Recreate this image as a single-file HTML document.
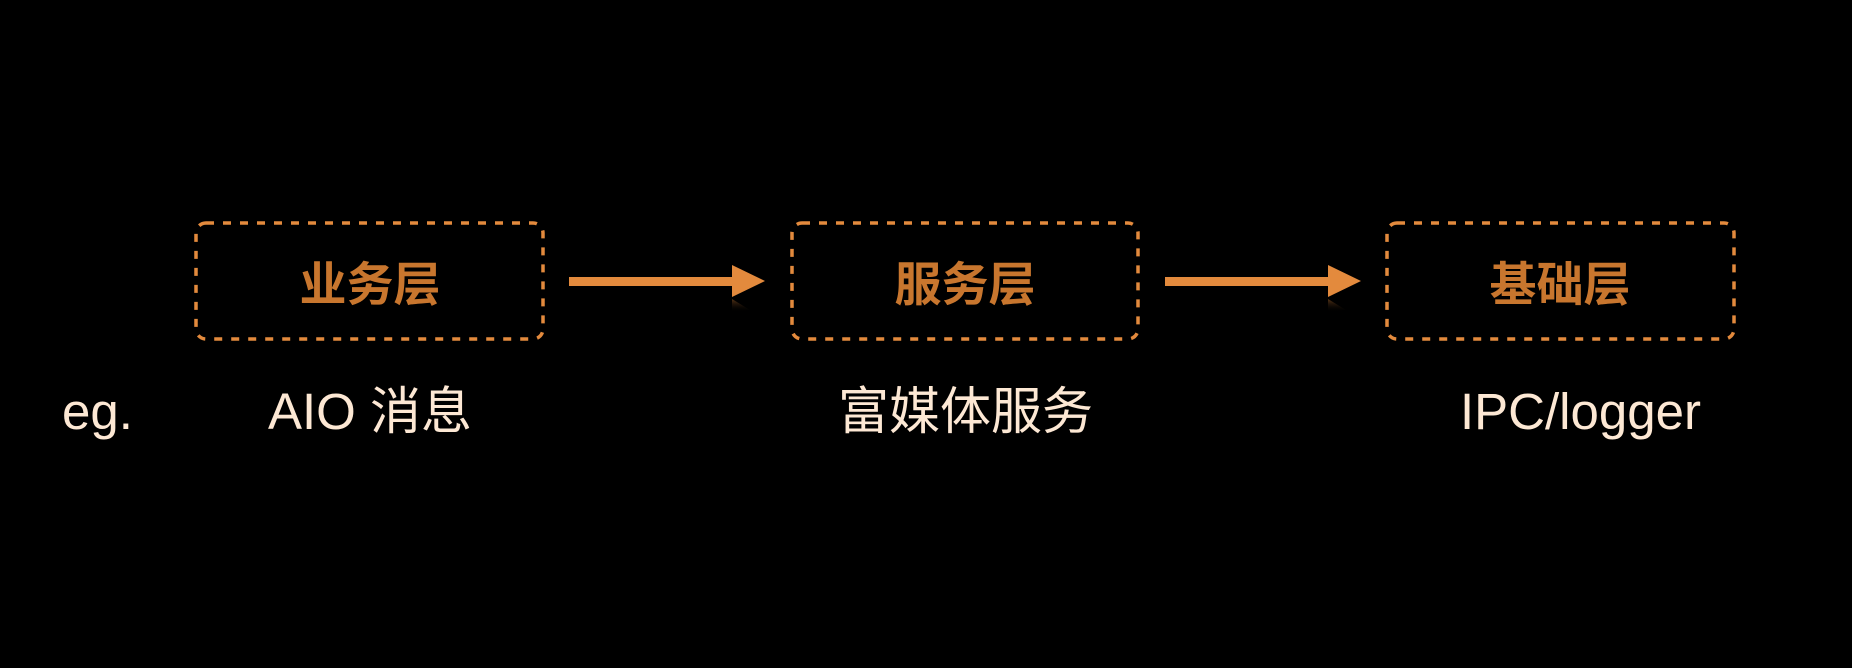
<!DOCTYPE html>
<html><head><meta charset="utf-8"><style>
html,body{margin:0;padding:0;background:#000;width:1852px;height:668px;overflow:hidden}
svg{display:block}
</style></head><body>
<svg width="1852" height="668" viewBox="0 0 1852 668" xmlns="http://www.w3.org/2000/svg">
<defs><linearGradient id="sh" x1="0" y1="0" x2="0" y2="1"><stop offset="0" stop-color="#7a4a20" stop-opacity="0.7"/><stop offset="1" stop-color="#000" stop-opacity="0"/></linearGradient></defs>
<g fill="none" stroke="#e38a3d" stroke-width="3.5" stroke-dasharray="8 9">
<rect x="196" y="223" width="347" height="116" rx="10"/>
<rect x="792" y="223" width="346" height="116" rx="10"/>
<rect x="1387" y="223" width="347" height="116" rx="10"/>
</g>
<g fill="#e38a3d">
<rect x="569" y="277" width="165" height="9"/>
<polygon points="732,265 765,281 732,297"/>
<rect x="1165" y="277" width="165" height="9"/>
<polygon points="1328,265 1361,281 1328,297"/>
</g>
<polygon points="732,299 750,310 732,312" fill="url(#sh)"/>
<polygon points="1328,299 1346,310 1328,312" fill="url(#sh)"/>
<g font-family="'Liberation Sans','Noto Sans CJK SC',sans-serif" font-weight="bold" font-size="47" fill="#c8762e" text-anchor="middle">
<text x="370" y="301">业务层</text>
<text x="965" y="301">服务层</text>
<text x="1560" y="301">基础层</text>
</g>
<g font-family="'Liberation Sans','Noto Sans CJK SC',sans-serif" font-size="51" fill="#fde8d4">
<text x="62" y="429">eg.</text>
<text x="268" y="429">AIO 消息</text>
<text x="838" y="429">富媒体服务</text>
<text x="1460" y="429">IPC/logger</text>
</g>
</svg>
</body></html>
